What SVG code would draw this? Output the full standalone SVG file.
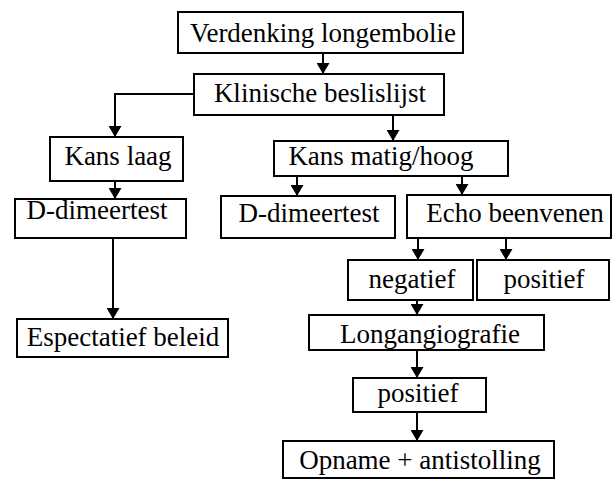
<svg xmlns="http://www.w3.org/2000/svg" width="613" height="480" viewBox="0 0 613 480">
<style>
rect.box{fill:#fff;stroke:#000;stroke-width:2}
text{font-family:"Liberation Serif","Times New Roman",serif;font-size:27px;fill:#000;text-anchor:middle}
.c line,.c polyline{stroke:#000;stroke-width:2;fill:none;marker-end:url(#ah)}
</style>
<defs>
<marker id="ah" markerUnits="userSpaceOnUse" markerWidth="12" markerHeight="13" refX="11" refY="6.5" orient="auto">
<path d="M0,0 L11,6.5 L0,13 z" fill="#000"/>
</marker>
</defs>
<rect width="613" height="480" fill="#fff"/>
<g class="c" id="connectors">
<line x1="323" y1="53" x2="323" y2="74"/>
<polyline points="194,94 115,94 115,137"/>
<line x1="115" y1="181" x2="115" y2="199"/>
<line x1="113" y1="238" x2="113" y2="319"/>
<line x1="393" y1="115" x2="393" y2="141"/>
<line x1="297" y1="176" x2="297" y2="196"/>
<line x1="462" y1="176" x2="462" y2="195"/>
<line x1="418" y1="238" x2="418" y2="260"/>
<line x1="506" y1="238" x2="506" y2="260"/>
<line x1="417" y1="300" x2="417" y2="315"/>
<line x1="417" y1="350" x2="417" y2="378"/>
<line x1="417" y1="412" x2="417" y2="441"/>
</g>
<g id="n1"><rect class="box" x="178" y="12" width="285" height="41"/><text x="323" y="42">Verdenking longembolie</text></g>
<g id="n2"><rect class="box" x="194" y="74" width="250" height="41"/><text x="320" y="102">Klinische beslislijst</text></g>
<g id="n3"><rect class="box" x="50" y="137" width="133" height="44"/><text x="118" y="165">Kans laag</text></g>
<g id="n4"><rect class="box" x="15" y="199" width="171" height="39"/><text x="97" y="219">D-dimeertest</text></g>
<g id="n5"><rect class="box" x="17" y="319" width="211" height="38"/><text x="123" y="346">Espectatief beleid</text></g>
<g id="n6"><rect class="box" x="274" y="141" width="234" height="35"/><text x="381" y="165">Kans matig/hoog</text></g>
<g id="n7"><rect class="box" x="221" y="196" width="174" height="42"/><text x="309" y="222">D-dimeertest</text></g>
<g id="n8"><rect class="box" x="407" y="195" width="204" height="43"/><text x="515" y="222">Echo beenvenen</text></g>
<g id="n9"><rect class="box" x="348" y="260" width="125" height="40"/><text x="412" y="288">negatief</text></g>
<g id="n10"><rect class="box" x="477" y="260" width="132" height="40"/><text x="544" y="288">positief</text></g>
<g id="n11"><rect class="box" x="309" y="315" width="235" height="35"/><text x="430" y="343">Longangiografie</text></g>
<g id="n12"><rect class="box" x="353" y="378" width="133" height="34"/><text x="418" y="402">positief</text></g>
<g id="n13"><rect class="box" x="283" y="441" width="271" height="37"/><text x="420" y="469">Opname + antistolling</text></g>
</svg>
